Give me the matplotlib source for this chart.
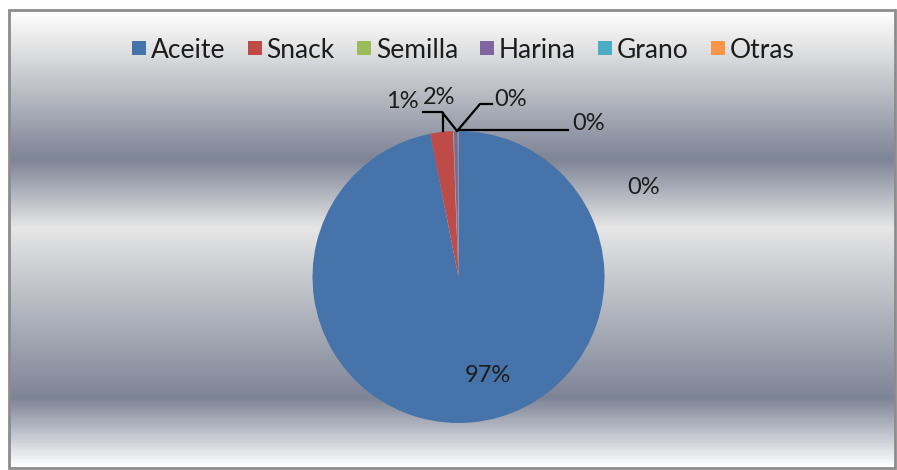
import numpy as np
import matplotlib.pyplot as plt
from matplotlib.colors import LinearSegmentedColormap
from matplotlib.lines import Line2D
from matplotlib.patches import Rectangle

# datos del grafico
categorias = ['Aceite', 'Snack', 'Semilla', 'Harina', 'Grano', 'Otras']
porcentajes = [96.9, 2.5, 0.1, 0.4, 0.05, 0.05]
etiquetas = ['97%', '2%', '1%', '0%', '0%', '0%']
colores = ['#4674AA', '#BE4B48', '#9BBB59', '#8064A2', '#4BACC6', '#F79646']

W, H = 897, 470
plt.rcParams['font.family'] = ['Lato', 'DejaVu Sans']

fig = plt.figure(figsize=(W / 100, H / 100), dpi=100)
ax = fig.add_axes([0, 0, 1, 1])

def py(y):
    # pixel (desde arriba) -> coordenada y
    return H - y

# pie primero (pie cambia los limites)
cx, cy, r = 458.5, 277, 146
wedges, _ = ax.pie(porcentajes, colors=colores, startangle=90, counterclock=False,
                   center=(cx, py(cy)), radius=r,
                   wedgeprops=dict(linewidth=0))
for w in wedges:
    w.set_zorder(3)

ax.set_xlim(0, W)
ax.set_ylim(0, H)
ax.set_aspect('equal')
ax.axis('off')

# fondo degradado "plata"
x0, y0, x1, y1 = 9, 10, 895, 468
stops = [(0.0, '#FFFFFF'), (0.07, '#E6E6E6'), (0.325, '#7D8496'),
         (0.475, '#E6E6E6'), (0.85, '#7D8496'), (1.0, '#FFFFFF')]
cmap = LinearSegmentedColormap.from_list('plata', stops)
grad = np.linspace(0, 1, 400).reshape(-1, 1)
ax.imshow(grad, cmap=cmap, aspect='auto', extent=[x0, x1, py(y1), py(y0)],
          origin='upper', zorder=0, interpolation='bilinear')
ax.add_patch(Rectangle((x0, py(y1)), x1 - x0, y1 - y0, fill=False,
                       edgecolor='#8C8C8C', linewidth=2, zorder=1))

# etiquetas de datos
pos = [(488, 375), (439, 98), (402, 101), (511, 99), (589, 123), (644, 187)]
for (x, y), t in zip(pos, etiquetas):
    ax.text(x, py(y), t, ha='center', va='center', fontsize=17,
            color='#1C1C1C', zorder=5)

# lineas guia
guias = [
    [(423, 112), (442, 112), (457, 131)],
    [(443, 113), (443, 131)],
    [(492, 104), (480, 104), (458, 130)],
    [(568, 130), (458, 130)],
]
for g in guias:
    xs = [p[0] for p in g]
    ys = [py(p[1]) for p in g]
    ax.plot(xs, ys, color='black', linewidth=1.6, zorder=4)

# leyenda
handles = [Line2D([], [], marker='s', linestyle='none', markersize=10.5,
                  markerfacecolor=c, markeredgewidth=0) for c in colores]
ax.legend(handles, categorias, loc='center', bbox_to_anchor=(463.5 / W, 1 - 50 / H),
          ncol=6, frameon=False, fontsize=19, handlelength=0.5,
          handletextpad=0.2, columnspacing=0.85, labelcolor='#1C1C1C',
          borderpad=0, borderaxespad=0)

fig.savefig('out.png', dpi=100)
